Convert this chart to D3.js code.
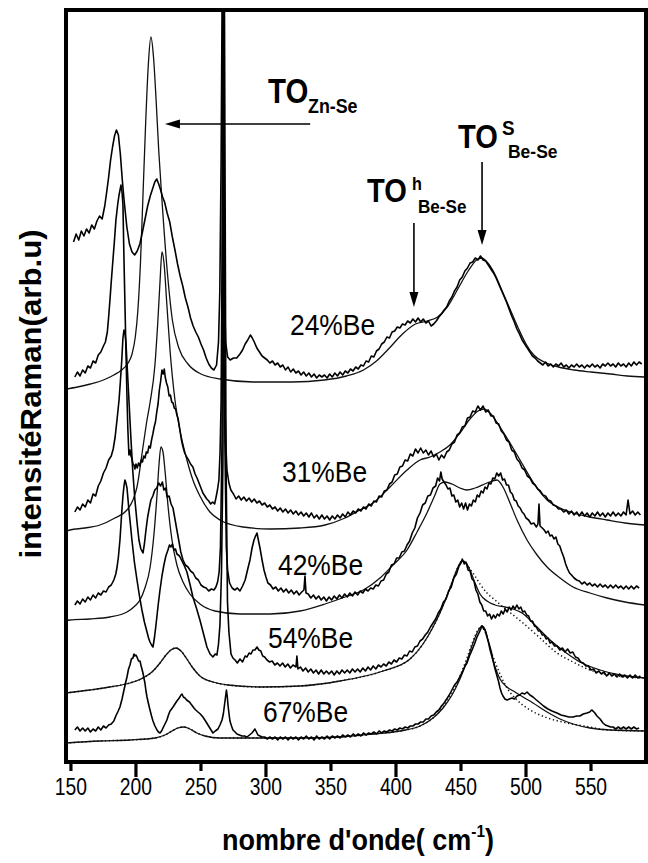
<!DOCTYPE html>
<html><head><meta charset="utf-8">
<script src="https://cdn.jsdelivr.net/npm/d3@7"></script>
<style>body{margin:0;background:#fff}svg{display:block}</style>
</head><body>
<svg id="chart" width="648" height="863"></svg>
<script>
// ---- axis values ----
const xTicksMajor = [200, 300, 400, 500];
const xTicksMinor = [150, 250, 350, 450, 550];
const xTickLabels = [150, 200, 250, 300, 350, 400, 450, 500, 550];
const sampleLabels = ["24%Be", "31%Be", "42%Be", "54%Be", "67%Be"];

// ---- spectra: [wavenumber (cm-1), intensity (arb. u., offset)] ----
const s24_meas = [[152,520],[154,528],[156,522],[158,531],[160,526],[162,533],[164,529],[166,537],[168,533],[170,541],[172,546],[174,543],[176,556],[177.5,570],[179,585],[180.5,602],[182,615],[183.5,626],[185,632],[186.5,627],[188,608],[189.5,582],[191,560],[193,535],[195,518],[197,510],[199,507],[201,511],[203,518],[205,530],[207,543],[209,556],[211,566],[213,574],[214.5,580],[216,583],[217.5,578],[219,572],[220.5,565],[222,560],[224,549],[226,540],[228,525],[230,512],[232,498],[234,486],[236,476],[238,464],[240,455],[242,444],[244,436],[246,430],[248,425],[250,418],[252,412],[254,404],[256,398],[258,394],[260,392],[262,397],[263.5,420],[264.5,470],[265.5,600],[266.2,750],[267,600],[268,470],[269,420],[270.5,405],[272.5,402],[275,404],[277.5,404],[280,408],[282,412],[284,418],[286,422],[288,427],[289.5,424],[291,420],[293,414],[295,410],[297,406],[299,404],[301,402],[303,399],[305,401],[307,397],[309,399],[311,395],[313,397],[315,392],[317,395],[319,390],[321,393],[323,389],[325,391],[327,387],[329,390],[331,386],[333,389],[335,385],[337,388],[339,384],[341,387],[343,385],[345,387],[347,384],[349,388],[351,385],[353,389],[355,386],[357,390],[359,387],[361,391],[363,389],[365,393],[367,391],[369,395],[371,393],[373,397],[375,396],[377,401],[379,400],[381,406],[383,405],[385,411],[387,413],[389,418],[391,420],[393,425],[395,424],[397,430],[399,431],[401,435],[403,434],[405,438],[407,437],[409,441],[411,439],[413,443],[415,440],[417,444],[419,440],[421,443],[423,439],[425,441],[427,436],[429,438],[431,441],[433,445],[435,448],[437,452],[439,455],[441,461],[443,465],[445,471],[447,475],[449,482],[451,485],[453,491],[455,494],[457,499],[459,500],[461,504],[463,502],[465,506],[467,502],[469,501],[471,497],[473,493],[475,489],[477,484],[479,478],[481,472],[483,466],[485,460],[487,453],[489,446],[491,440],[493,433],[495,428],[497,422],[499,418],[501,414],[503,410],[505,406],[507,404],[509,401],[511,399],[513,397],[515,400],[517,396],[519,398],[521,395],[523,398],[525,396],[527,399],[529,395],[531,397],[533,394],[535,397],[537,395],[539,398],[541,395],[543,397],[545,394],[547,397],[549,395],[551,398],[553,395],[555,397],[557,394],[559,398],[561,396],[563,399],[565,396],[567,398],[569,395],[571,399],[573,396],[575,398],[577,395],[579,399],[581,396],[583,400],[585,397],[587,400],[589,398]];
const s24_fit = [[146.2,373],[155,375],[165,378],[175,382],[183,387],[189,392],[194,399],[197,408],[199.5,425],[201.5,452],[203.5,500],[205.5,570],[207.5,640],[209.5,697],[211.5,725],[213.5,705],[215.5,662],[217.5,612],[220,562],[224,492],[228,442],[233,414],[240,398],[250,388],[265,383],[290,380],[320,380],[345,382],[362,386],[375,392],[385,401],[395,414],[405,428],[415,438],[424,441],[432,445],[440,456],[448,474],[456,492],[462,502],[466,504],[470,500],[476,488],[482,470],[488,452],[494,434],[500,418],[506,407],[514,400],[525,395],[537,392],[550,390],[565,388],[578,386],[591.5,385]];

const s31_meas = [[153,385],[155,390],[157,386],[159,392],[161,389],[163,396],[165,394],[167,401],[169,399],[171,407],[173,410],[175,416],[176.5,420],[178,430],[179,445],[180,462],[181,480],[182.3,502],[183.5,522],[184.6,542],[186,558],[187,567],[188.5,577],[189.3,570],[190,557],[190.8,502],[191.5,460],[192.3,412],[193,370],[193.8,332],[194.6,307],[195.4,312],[196.2,306],[197,303],[197.7,298],[198.5,297],[199.2,293],[200,298],[201,294],[202,299],[203,296],[204,302],[205,300],[206,306],[207,304],[208,310],[209,309],[210,316],[211,314],[212,322],[213,328],[214,335],[215,340],[216,350],[217,358],[218,372],[219,381],[220,392],[221,388],[221.8,393],[222.5,385],[223.5,379],[224.5,375],[225.5,366],[226.5,367],[227.5,360],[228.5,359],[229.5,354],[230.5,353],[231.5,347],[232.5,343],[233.8,332],[235,322],[236.2,315],[237.5,309],[239,305],[240.5,302],[242,298],[243.8,295],[245.5,288],[247,284],[248.5,279],[250,274],[251.5,269],[253,266],[254.5,263],[256,261],[257.5,258],[259,260],[260.5,258],[261.5,264],[262.7,272],[263.8,282],[264.7,310],[265.5,360],[266.2,500],[266.9,750],[267.6,500],[268.4,360],[269.2,315],[270,292],[271.5,279],[273,272],[275,268],[277,263],[279,266],[281,262],[283,265],[285,261],[287,264],[289,260],[291,263],[293,259],[295,261],[297,257],[299,259],[301,255],[303,257],[305,253],[307,255],[309,251],[311,254],[313,250],[315,253],[317,249],[319,252],[321,248],[323,251],[325,247],[327,250],[329,246],[331,249],[333,245],[335,249],[337,244],[339,247],[341,243],[343,247],[345,243],[347,246],[349,242],[351,246],[353,243],[355,247],[357,244],[359,248],[361,245],[363,250],[365,247],[367,251],[369,249],[371,253],[373,251],[375,255],[377,253],[379,258],[381,256],[383,261],[385,260],[387,266],[389,265],[391,271],[393,272],[395,278],[397,280],[399,287],[401,288],[403,295],[405,296],[407,302],[409,301],[411,308],[413,306],[415,313],[417,309],[419,314],[421,309],[423,312],[425,307],[427,311],[429,305],[431,308],[433,302],[435,307],[437,304],[439,310],[441,312],[443,318],[445,320],[447,327],[449,329],[451,335],[453,336],[455,344],[457,345],[459,351],[461,350],[463,356],[465,352],[467,356],[469,350],[471,352],[473,346],[475,346],[477,339],[479,338],[481,331],[483,328],[485,322],[487,320],[489,312],[491,310],[493,303],[495,300],[497,294],[499,292],[501,286],[503,284],[505,279],[507,277],[509,273],[511,271],[513,267],[515,266],[517,262],[519,261],[521,257],[523,256],[525,253],[527,253],[529,250],[531,252],[533,248],[535,251],[537,247],[539,250],[541,246],[543,250],[545,246],[547,249],[549,245],[551,249],[553,246],[555,250],[557,246],[559,249],[561,245],[563,249],[565,246],[567,250],[569,246],[571,249],[573,246],[575,250],[577,247],[578.5,262],[580,248],[582,251],[584,247],[586,250],[588,247]];
const s31_fit = [[146.2,231],[149.2,232],[160.8,234],[172.3,237],[183.8,244],[193.1,252],[197.7,262],[200.8,275],[205.4,315],[208.5,342],[210.8,359],[214.6,397],[216.9,442],[218.5,480],[220,510],[221.5,500],[223.8,457],[226.2,412],[230,362],[233.8,332],[239.2,302],[243.8,282],[249.2,266],[256.9,250],[264.6,242],[282.3,235],[303.1,233],[326.2,234],[345.4,237],[360.8,244],[372.3,252],[382.3,259],[395.4,275],[408.5,292],[418.5,302],[426.2,305],[433.8,310],[441.5,317],[449.2,329],[456.9,343],[463.1,351],[467.7,353],[472.3,349],[480,335],[487.7,319],[495.4,302],[505.4,280],[516.2,262],[526.2,254],[536.2,249],[549.2,245],[562.3,242],[576.2,239],[591.5,237]];

const s42_meas = [[153,250],[155,255],[157,252],[159,258],[161,255],[163,262],[165,259],[167,268],[169,266],[171,276],[173,281],[175,289],[177,294],[179,302],[181,306],[182.5,313],[184,325],[185.5,343],[187,362],[188,380],[189,400],[190,424],[190.8,432],[191.6,428],[192.3,420],[193,402],[193.8,382],[195,352],[196.2,322],[197.5,292],[199.2,262],[200.8,240],[202.3,222],[203.8,213],[205.4,209],[206.5,218],[207.7,232],[209,245],[210,252],[211.5,262],[213,266],[214.5,272],[216,274],[217.5,279],[219,276],[220.3,280],[221.5,272],[222.8,274],[224,265],[225.5,266],[227,258],[228.5,254],[230,243],[231.5,232],[233,221],[234.5,210],[236.2,202],[238,197],[240,195],[242,191],[244,189],[246,184],[248,182],[250,177],[252,175],[254,174],[256,171],[258,173],[260,172],[261.5,175],[262.8,180],[264,190],[265,215],[266.2,320],[267.3,750],[268.4,320],[269.5,215],[270.5,192],[272,179],[274,174],[276,172],[278,174],[280,171],[282,176],[284,182],[286,193],[287.7,202],[289.3,214],[290.8,222],[292,226],[293.1,229],[294.3,221],[295.4,214],[297,202],[298.5,192],[300,185],[301.5,179],[303.5,177],[305.5,173],[307.5,175],[309.5,171],[311.5,174],[313.5,170],[315.5,173],[317.5,169],[319.5,172],[321.5,168],[323.5,171],[325.5,167],[327.5,170],[329.2,172],[330,186],[330.8,169],[332.5,168],[334.5,164],[336.5,167],[338.5,163],[340.5,166],[342.5,162],[344.5,165],[346.5,161],[348.5,165],[350.5,162],[352.5,166],[354.5,163],[356.5,167],[358.5,164],[360.5,168],[362.5,165],[364.5,169],[366.5,166],[368.5,170],[370.5,167],[372.5,171],[374.5,169],[376.5,173],[378.5,171],[380.5,174],[382.5,173],[384.5,177],[386.5,176],[388.5,181],[390.5,182],[392.5,188],[394.5,190],[396.5,197],[398.5,198],[400.5,204],[402.5,204],[404.5,210],[406.5,211],[408.5,217],[410.5,221],[412.5,229],[414.5,234],[416.5,244],[418.5,249],[420.5,257],[422.5,259],[424.5,266],[426.5,267],[428.5,274],[430.5,276],[432,284],[433.5,281],[434.5,290],[435.5,283],[437,280],[438.5,277],[440,273],[441.5,274],[443,266],[444.5,267],[446,260],[447.5,262],[449,255],[450.5,259],[452,253],[453.5,259],[455,252],[456.5,258],[458,256],[459.5,262],[461,260],[462.5,267],[464,265],[465.5,271],[467,269],[468.5,275],[470,273],[471.5,279],[473,278],[474.5,284],[476,283],[477.5,289],[479,286],[480.5,289],[482,282],[483.5,283],[485,277],[486.5,277],[488,270],[489.5,268],[491,262],[492.5,261],[494,256],[495.5,254],[497,250],[498.5,248],[500,244],[502,242],[504,238],[506,239],[508,235],[509.2,238],[510,258],[510.8,236],[512.5,234],[514,232],[515.5,229],[517,231],[518.5,226],[520,227],[521.5,223],[523,225],[524.5,218],[526,216],[527.5,210],[529,205],[530.5,198],[532,193],[533.5,189],[535,187],[537,184],[539,182],[541,181],[543,178],[545,180],[547,177],[549,179],[551,176],[553,178],[555,175],[557,178],[559,175],[561,177],[563,174],[565,177],[567,174],[569,177],[571,174],[573,176],[575,173],[577,176],[579,173],[581,176],[583,173],[585,176],[587,174]];
const s42_fit = [[146.2,141],[149.2,142],[164.6,143],[180,145],[193.1,150],[199.2,156],[203.1,162],[206.9,174],[210.8,194],[213.8,227],[216.2,267],[217.7,297],[219.2,315],[220.8,310],[222.3,292],[224.6,257],[227.7,222],[231.5,197],[236.2,180],[241.5,168],[249.2,158],[260.8,151],[280,148],[303.1,148],[326.2,151],[345.4,158],[360.8,165],[376.2,173],[387.7,184],[397.7,197],[408.5,212],[416.2,230],[423.8,249],[430,267],[433.8,278],[437.7,280],[443.1,278],[449.2,274],[454.6,272],[460.8,274],[470,279],[477.7,282],[482.3,275],[487.7,259],[493.1,242],[500.8,222],[508.5,207],[516.2,195],[526.2,184],[536.2,175],[549.2,169],[562.3,164],[576.2,160],[591.5,157]];

const s54_meas = [[153,157],[155,161],[157,158],[159,163],[161,160],[163,165],[165,162],[167,167],[169,164],[171,169],[173,167],[175,171],[177,170],[179,175],[181,177],[183,182],[184.5,188],[185.5,195],[186.5,205],[187.7,222],[188.5,238],[189.2,252],[190,266],[190.8,276],[191.5,282],[192.3,279],[193.1,274],[193.8,264],[194.6,252],[195.7,238],[196.9,222],[198.8,200],[200.8,182],[202.7,166],[204.6,152],[206.5,140],[208.5,130],[209.7,124],[210.8,120],[212,117],[213.1,115],[214.2,124],[215.4,137],[217,156],[218.5,172],[220,186],[221.5,197],[223,206],[224.6,212],[225.8,217],[226.9,215],[228,218],[229.2,212],[230.4,213],[231.5,208],[233.5,206],[235.4,201],[237.3,196],[239.2,190],[241.5,178],[243.8,165],[246.5,154],[249.2,142],[252,128],[254.6,115],[257,108],[259.2,105],[261,108],[262.3,107],[263.5,118],[264.6,137],[265.8,190],[266.9,300],[268.1,750],[269.3,300],[270.4,160],[271.5,130],[273.1,108],[274.6,104],[276.2,102],[278,99],[280,103],[282,100],[284,106],[285.4,105],[287,109],[288.5,108],[290,112],[291.5,112],[293.1,115],[294.5,112],[296,111],[297.5,106],[299,105],[300.8,102],[302.8,100],[304.8,101],[306.8,97],[308.8,99],[310.8,96],[312.8,99],[314.8,95],[316.8,98],[318.8,94],[320.8,97],[323.1,95],[323.8,106],[324.6,93],[326.5,95],[328.5,91],[330.5,94],[332.5,90],[334.5,93],[336.5,89],[338.5,92],[340.5,88],[342.5,92],[344.5,88],[346.5,91],[348.5,88],[350.5,91],[352.5,87],[354.5,91],[356.5,88],[358.5,92],[360.5,89],[362.5,92],[364.5,89],[366.5,93],[368.5,90],[370.5,93],[372.5,90],[374.5,94],[376.5,91],[378.5,95],[380.5,92],[382.5,96],[384.5,93],[386.5,97],[388.5,95],[390.5,98],[392.5,96],[394.5,100],[396.5,98],[398.5,102],[400.5,100],[402.5,104],[404.5,103],[406.5,107],[408.5,106],[410.5,111],[412.5,110],[414.5,115],[416.5,116],[418.5,121],[420.5,123],[422.5,127],[424.5,130],[426.5,135],[428.5,139],[430.5,143],[432.5,149],[434.5,153],[436.5,160],[438.5,163],[440.5,171],[442.5,175],[444.5,184],[446.5,188],[448.5,196],[450,199],[451,203],[452.5,198],[453.8,200],[455.5,192],[457,191],[458.5,183],[460,181],[461.5,172],[463,168],[464.5,160],[466,157],[467.5,151],[469,151],[470.5,146],[472,148],[473.5,143],[475,147],[476.5,144],[478,148],[479.5,146],[481,151],[482.5,148],[484,153],[485.5,150],[487,155],[488.5,152],[490,156],[491.5,153],[493,157],[494.5,153],[496,155],[497.5,150],[499,151],[500.5,147],[502,146],[503.5,141],[505,141],[506.5,136],[508,135],[509.5,131],[511,131],[512.5,127],[514,127],[515.5,123],[517,124],[518.5,119],[520,120],[522,116],[524,116],[526,112],[528,114],[530,110],[532,113],[534,109],[536,110],[538,105],[540,104],[542,100],[544,99],[546,96],[548,96],[550,92],[552,93],[554,89],[556,91],[558,88],[560,90],[562,86],[564,89],[566,86],[568,88],[570,85],[572,88],[574,85],[576,87],[578,84],[580,87],[582,84],[584,87],[586,84],[588,86]];
const s54_fit = [[146.2,69],[164.6,72],[180,75],[195.4,79],[205.4,84],[212.3,90],[218.5,99],[223.1,107],[226.9,112],[230.8,114],[234.6,111],[239.2,103],[243.8,94],[249.2,86],[259.2,80],[270.8,77],[295.4,75],[326.2,76],[356.9,81],[390,91],[410.8,103],[420.8,118],[427.7,133],[433.8,149],[439.2,166],[443.8,182],[447.7,195],[450.8,201],[453.8,199],[456.9,192],[460.8,179],[464.6,168],[470,161],[476.2,157],[483.8,155],[490,153],[496.9,149],[506.9,137],[518.5,122],[530,110],[541.5,100],[556.9,92],[572.3,87],[591.5,84]];
const s54_fit2 = [[146.2,69],[164.6,72],[180,75],[195.4,79],[205.4,84],[212.3,90],[218.5,99],[223.1,107],[226.9,112],[230.8,114],[234.6,111],[239.2,103],[243.8,94],[249.2,86],[259.2,80],[270.8,77],[295.4,75],[326.2,76],[356.9,81],[390,91],[410.8,103],[420.8,118],[427.7,133],[433.8,149],[439.2,166],[443.8,182],[447.7,195],[450.8,201],[453.8,199],[456.9,193],[460.8,186],[464.6,178],[470,169],[476.2,162],[482.3,155],[489.2,148],[497.7,139],[510.8,124],[523.8,109],[536.2,100],[549.2,92],[564.6,87],[591.5,84]];

const s67_meas = [[153,32],[155,35],[157,31],[159,34],[161,31],[163,34],[165,30],[167,33],[169,31],[171,35],[173,32],[175,36],[177,34],[179,37],[181,38],[183,41],[184.5,46],[186,50],[187.7,55],[189.3,63],[190.8,72],[192,79],[193.1,85],[194.3,93],[195.4,97],[196.5,103],[197.7,104],[198.5,108],[199.2,106],[200,107],[200.8,105],[202,101],[203.1,101],[204,96],[205.4,89],[206.9,79],[207.7,71],[208.5,65],[209.7,58],[210.8,52],[212,46],[213.1,41],[214.6,36],[216.2,32],[217.3,30],[218.5,29],[219.7,31],[220.8,34],[222.3,38],[223.8,42],[225,47],[226.2,51],[227.4,53],[228.5,55],[230,58],[231.5,61],[232.7,63],[233.8,65],[234.6,67],[235.4,68],[236.5,65],[237.7,64],[239,62],[240,61],[241.2,60],[242.3,58],[243.5,56],[244.6,54],[246,52],[247.7,50],[249.5,48],[251.5,45],[253.5,41],[255.4,37],[257.3,33],[259.2,29],[261,31],[263.1,33],[264.6,37],[266.2,42],[267.2,48],[268.1,57],[268.9,65],[269.6,72],[270.2,66],[270.8,57],[271.6,48],[272.3,41],[273.5,36],[274.6,32],[276.2,30],[277.7,28],[279.6,27],[281.5,26],[283.5,26],[285.4,25],[287.3,27],[289.2,29],[290.4,31],[291.5,33],[292.7,30],[293.8,27],[295.4,26],[296.9,25],[299,25],[301,23],[303,25],[305,23],[307,25],[309,22],[311,25],[313,23],[315,25],[317,22],[319,25],[321,23],[323,25],[325,22],[327,25],[329,23],[331,26],[333,23],[335,25],[337,22],[339,26],[341,23],[343,25],[345,23],[347,26],[349,23],[351,26],[353,24],[355,26],[357,24],[359,27],[361,25],[363,27],[365,25],[367,28],[369,26],[371,28],[373,26],[375,29],[377,27],[379,29],[381,28],[383,30],[385,28],[387,31],[389,29],[391,31],[393,30],[395,32],[397,31],[399,33],[401,32],[403,34],[405,33],[407,35],[409,34],[411,36],[413,36],[415,38],[417,38],[419,40],[421,40],[423,43],[425,43],[427,46],[429,47],[431,50],[433,52],[435,56],[437,59],[439,63],[441,67],[443,72],[445,77],[447,80],[449,85],[451,90],[452.7,95],[454.6,99],[456.5,106],[458.5,112],[460.4,118],[462.3,125],[464.2,130],[465.2,133],[466.2,136],[467.4,133],[468.5,132],[469.3,128],[470,125],[471.2,120],[472.3,115],[473.5,109],[474.6,102],[476,94],[477.7,86],[479,80],[480,74],[481.2,69],[482.3,66],[483.8,63],[485.4,62],[487.3,63],[489.2,64],[491,63],[493.1,66],[495,67],[496.9,69],[499,68],[500.8,70],[503,67],[505.4,65],[508,62],[510.8,59],[513.5,56],[516.9,53],[520,51],[523.8,49],[527,47],[530,46],[533,45],[536.2,45],[539,46],[541.5,46],[544,48],[546.9,49],[549,50],[550.5,52],[551.5,51],[553,49],[554.6,46],[557,43],[559.2,39],[561,37],[563.1,36],[565,35],[567,35],[569,33],[571,35],[573,33],[575,35],[577,33],[579,35],[581,33],[583,35],[585,33],[587,34]];
const s67_fit = [[146.2,19],[172.3,21],[195.4,22],[214.6,24],[222.3,27],[227.7,31],[232.3,34],[236.9,35],[241.5,33],[246.9,29],[253.1,26],[264.6,24],[295.4,24],[326.2,24],[356.9,25],[382.3,28],[403.1,31],[418.5,36],[428.5,44],[436.2,54],[443.1,67],[449.2,83],[454.6,101],[459.2,119],[463.1,131],[466.2,136],[469.2,130],[472.3,112],[476.2,95],[480,83],[485.4,75],[491.5,70],[497.7,65],[505.4,59],[516.2,50],[526.2,43],[536.2,38],[549.2,34],[564.6,32],[591.5,31]];
const s67_fit2 = [[146.2,19],[172.3,21],[195.4,22],[214.6,24],[222.3,27],[227.7,31],[232.3,34],[236.9,35],[241.5,33],[246.9,29],[253.1,26],[264.6,24],[295.4,24],[326.2,24],[356.9,25],[382.3,28],[403.1,31],[418.5,36],[428.5,44],[436.2,55],[443.1,69],[449.2,86],[454.6,104],[459.2,121],[463.1,132],[466.2,136],[469.2,128],[472.3,114],[476.2,100],[480,88],[485.4,74],[493.1,62],[503.1,52],[514.6,45],[531.5,39],[549.2,35],[562.3,32],[591.5,31]];

// ---- layout ----
const svg = d3.select("#chart");
const x = d3.scaleLinear().domain([146.2, 592.3]).range([66, 646]);
const y = d3.scaleLinear().domain([0, 752]).range([762, 10]);
const FONT = '"Liberation Sans", Arial, Helvetica, sans-serif';

svg.append("rect").attr("width", 648).attr("height", 863).attr("fill", "#fff");
svg.append("defs").append("clipPath").attr("id", "plotclip")
  .append("rect").attr("x", 66).attr("y", 10).attr("width", 580).attr("height", 752);

const plot = svg.append("g").attr("clip-path", "url(#plotclip)");
const lineRaw = d3.line().x(d => x(d[0])).y(d => y(d[1]));
const lineSmooth = d3.line().x(d => x(d[0])).y(d => y(d[1])).curve(d3.curveMonotoneX);

const fits = [s24_fit, s31_fit, s42_fit, s54_fit, s67_fit];
const dotted = [s54_fit2, s67_fit2];
const measured = [s24_meas, s31_meas, s42_meas, s54_meas, s67_meas];

plot.selectAll("path.fit").data(fits).join("path").attr("class", "fit")
  .attr("d", lineSmooth).attr("fill", "none").attr("stroke", "#111").attr("stroke-width", 1.3);
plot.selectAll("path.dot").data(dotted).join("path").attr("class", "dot")
  .attr("d", lineSmooth).attr("fill", "none").attr("stroke", "#111").attr("stroke-width", 1.5)
  .attr("stroke-dasharray", "1.3,2.6");
plot.selectAll("path.meas").data(measured).join("path").attr("class", "meas")
  .attr("d", lineRaw).attr("fill", "none").attr("stroke", "#000").attr("stroke-width", 1.6)
  .attr("stroke-linejoin", "round");

// frame
svg.append("rect").attr("x", 66).attr("y", 10).attr("width", 580).attr("height", 752)
  .attr("fill", "none").attr("stroke", "#000").attr("stroke-width", 4);

// ticks
svg.selectAll("line.tmaj").data(xTicksMajor).join("line").attr("class", "tmaj")
  .attr("x1", d => x(d)).attr("x2", d => x(d)).attr("y1", 762).attr("y2", 777)
  .attr("stroke", "#000").attr("stroke-width", 3.2);
svg.selectAll("line.tmin").data(xTicksMinor).join("line").attr("class", "tmin")
  .attr("x1", d => x(d)).attr("x2", d => x(d)).attr("y1", 762).attr("y2", 771)
  .attr("stroke", "#000").attr("stroke-width", 3.2);
svg.selectAll("text.tl").data(xTickLabels).join("text").attr("class", "tl")
  .attr("transform", d => `translate(${x(d)},795) scale(0.84,1)`)
  .attr("text-anchor", "middle").attr("font-family", FONT).attr("font-size", 23)
  .attr("fill", "#000").text(d => d);

function label(txt, px, py, fs, opts = {}) {
  return svg.append("text")
    .attr("transform", `translate(${px},${py}) scale(${opts.sx || 0.88},1)`)
    .attr("font-family", FONT).attr("font-size", fs)
    .attr("font-weight", opts.bold ? "bold" : "normal")
    .attr("text-anchor", opts.anchor || "start").attr("fill", "#000").text(txt);
}

// sample labels
const labelPos = [[290, 335], [282, 482], [278, 575], [268, 648], [263, 722]];
sampleLabels.forEach((s, i) => label(s, labelPos[i][0], labelPos[i][1], 30));

// peak annotations
label("TO", 268, 103, 35, {bold: true, sx: 0.84});
label("Zn-Se", 308, 113, 21, {bold: true, sx: 0.85});
label("TO", 367, 202, 33, {bold: true, sx: 0.88});
label("h", 412, 190, 18, {bold: true, sx: 0.9});
label("Be-Se", 418, 213, 18, {bold: true, sx: 0.95});
label("TO", 458, 148, 33, {bold: true, sx: 0.88});
label("S", 502, 135, 21, {bold: true, sx: 0.9});
label("Be-Se", 508, 158, 19, {bold: true, sx: 0.92});

// arrows
function arrow(x1, y1, x2, y2) {
  const dx = x2 - x1, dy = y2 - y1, L = Math.hypot(dx, dy), ux = dx / L, uy = dy / L;
  const hl = 15, hw = 4.5;
  svg.append("line").attr("x1", x1).attr("y1", y1).attr("x2", x2 - ux * hl * 0.8).attr("y2", y2 - uy * hl * 0.8)
    .attr("stroke", "#000").attr("stroke-width", 1.6);
  const bx = x2 - ux * hl, by = y2 - uy * hl;
  svg.append("polygon")
    .attr("points", `${x2},${y2} ${bx - uy * hw},${by + ux * hw} ${bx + uy * hw},${by - ux * hw}`)
    .attr("fill", "#000");
}
arrow(x(334), y(638), x(222.3), y(638));
arrow(x(413.8), y(539), x(413.8), y(455));
arrow(x(466.2), y(600), x(466.2), y(517));

// axis titles
const xt = svg.append("text")
  .attr("transform", "translate(358,850) scale(0.9,1)")
  .attr("text-anchor", "middle").attr("font-family", FONT).attr("font-size", 30)
  .attr("font-weight", "bold").attr("fill", "#000");
xt.append("tspan").text("nombre d'onde( cm");
xt.append("tspan").attr("font-size", 17).attr("dy", -13).text("-1");
xt.append("tspan").attr("dy", 13).text(")");

svg.append("text")
  .attr("transform", "translate(41,394) rotate(-90) scale(1.04,1)")
  .attr("text-anchor", "middle").attr("font-family", FONT).attr("font-size", 30)
  .attr("font-weight", "bold").attr("fill", "#000").text("intensitéRaman(arb.u)");
</script>
</body></html>
